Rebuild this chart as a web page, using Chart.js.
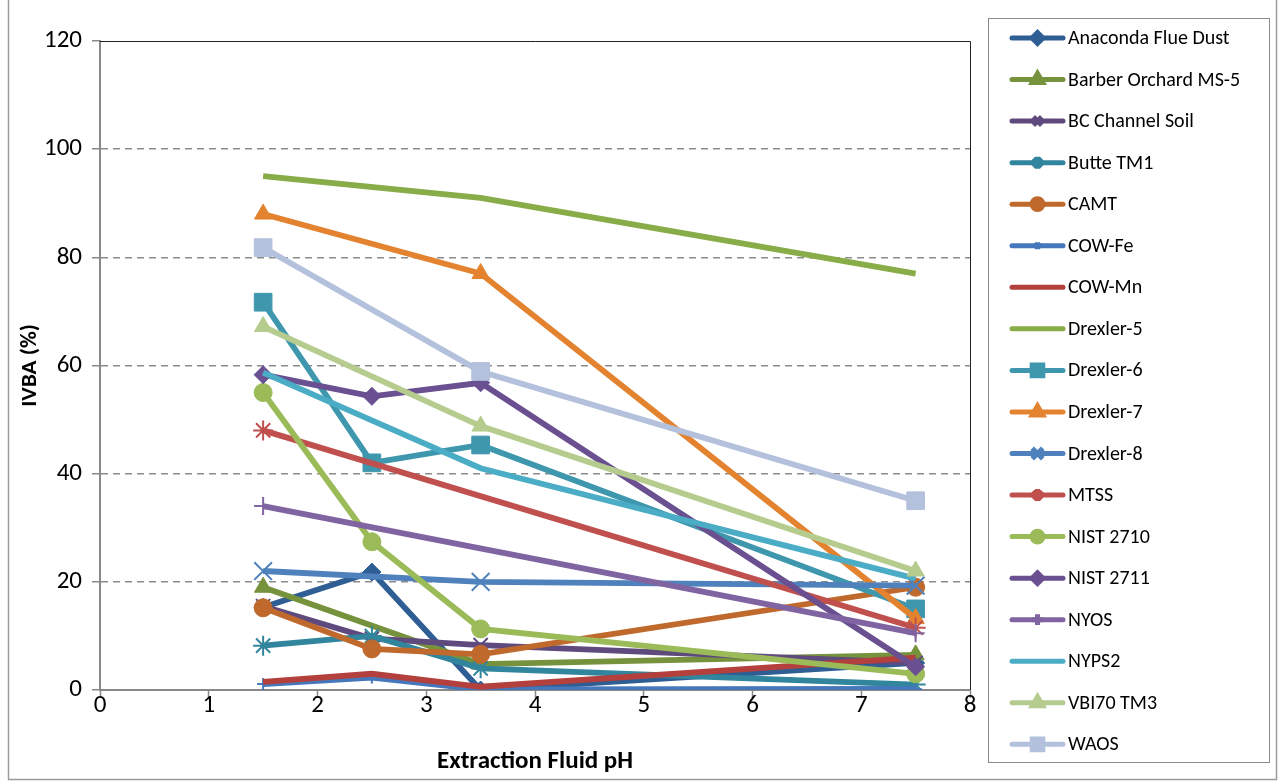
<!DOCTYPE html>
<html><head><meta charset="utf-8">
<script src="https://cdn.jsdelivr.net/npm/chart.js@4.4.1/dist/chart.umd.min.js"></script>
<style>html,body{margin:0;padding:0;background:#fff;}#wrap{width:1280px;height:782px;position:relative;}</style>
</head><body><div id="wrap"><canvas id="c" width="1280" height="782"></canvas></div>
<script>
// ---- data ----
const phLevels = [1.5, 2.5, 3.5, 7.5];
const seriesNames = ["Anaconda Flue Dust","Barber Orchard MS-5","BC Channel Soil","Butte TM1","CAMT","COW-Fe","COW-Mn","Drexler-5","Drexler-6","Drexler-7","Drexler-8","MTSS","NIST 2710","NIST 2711","NYOS","NYPS2","VBI70 TM3","WAOS"];
const anacondaFlueDust = [15.3, 21.8, 0, 5];
const barberOrchardMS5 = [19, null, 4.8, 6.5];
const bcChannelSoil   = [15.5, 9.5, 8.3, 5];
const butteTM1        = [8.2, 10, 4, 1];
const camt            = [15.2, 7.6, 6.6, 19];
const cowFe           = [1.1, 2.3, 0.1, 0.2];
const cowMn           = [1.5, 3, 0.6, 6];
const drexler5        = [95, null, 91, 77];
const drexler6        = [71.7, 42, 45.3, 15];
const drexler7        = [88, null, 77, 13.2];
const drexler8        = [22, null, 20, 19.3];
const mtss            = [48, null, null, 11.5];
const nist2710        = [55, 27.4, 11.3, 3];
const nist2711        = [58.3, 54.3, 56.8, 4.3];
const nyos            = [34, null, null, 10.5];
const nyps2           = [58.7, null, 41, 20.6];
const vbi70TM3        = [67.2, null, 48.8, 22];
const waos            = [81.8, null, 58.9, 35];
const seriesValues = [anacondaFlueDust, barberOrchardMS5, bcChannelSoil, butteTM1, camt, cowFe, cowMn, drexler5, drexler6, drexler7, drexler8, mtss, nist2710, nist2711, nyos, nyps2, vbi70TM3, waos];
const xTickValues = [0,1,2,3,4,5,6,7,8];
const yTickValues = [0,20,40,60,80,100,120];

// ---- styles ----
const seriesColors = ["#2E5E94","#76923C","#5F4A7E","#31859C","#C0692D","#4577BA","#B3403D","#88AC48","#3F97AE","#E3822F","#4F81BD","#C0504D","#9BBB59","#6A5090","#8064A2","#4BACC6","#B5CC8E","#B4C1DC"];
const seriesMarkers = ["rectRot","triangle","crossRot","star","circle","cross",false,false,"rect","triangle","crossRot","star","circle","rectRot","cross",false,"triangle","rect"];
const markerRadius = [9,10,10,10,9,6,0,0,12.5,10,12.5,10,9,9,9,0,10,12.5];

const FONT = "Carlito, Lato, 'Open Sans', sans-serif";

const datasets = seriesNames.map((name, i) => {
  const pts = phLevels.map((x, j) => ({x: x, y: seriesValues[i][j]}));
  const isStroke = ["crossRot","cross","star"].includes(seriesMarkers[i]);
  return {
    label: name,
    data: pts,
    borderColor: seriesColors[i],
    backgroundColor: seriesColors[i],
    borderWidth: 5.8,
    pointStyle: seriesMarkers[i] || false,
    pointRadius: markerRadius[i],
    pointHoverRadius: markerRadius[i],
    pointBackgroundColor: seriesColors[i],
    pointBorderColor: seriesColors[i],
    pointBorderWidth: isStroke ? 2 : 1,
    spanGaps: true,
    tension: 0,
    order: seriesNames.length - i
  };
});

const framePlugin = {
  id: 'frame',
  beforeDatasetsDraw(chart) {
    const {ctx, chartArea: a} = chart;
    ctx.save();
    ctx.strokeStyle = '#222';
    ctx.lineWidth = 1;
    ctx.beginPath();
    ctx.moveTo(a.left, a.top + 0.5); ctx.lineTo(a.right + 0.5, a.top + 0.5); ctx.lineTo(a.right + 0.5, a.bottom);
    ctx.stroke();
    ctx.restore();
  },
  afterDraw(chart) {
    const ctx = chart.ctx;
    ctx.save();
    ctx.strokeStyle = '#9a9a9a';
    ctx.lineWidth = 1.5;
    ctx.beginPath();
    ctx.moveTo(8.5, 0); ctx.lineTo(8.5, 779.5); ctx.lineTo(1276.5, 779.5); ctx.lineTo(1276.5, 0);
    ctx.stroke();
    ctx.strokeStyle = '#8a8a8a';
    ctx.lineWidth = 1;
    ctx.strokeRect(988.5, 18.5, 281, 744);
    const x0 = 1012, x1 = 1063, tx = 1068;
    ctx.font = "20px " + FONT;
    ctx.textBaseline = 'middle';
    ctx.textAlign = 'left';
    seriesNames.forEach((name, i) => {
      const y = 38 + i * 41.55;
      ctx.strokeStyle = seriesColors[i];
      ctx.lineWidth = 5;
      ctx.lineCap = 'round';
      ctx.beginPath(); ctx.moveTo(x0, y); ctx.lineTo(x1, y); ctx.stroke();
      ctx.lineCap = 'butt';
      if (seriesMarkers[i]) {
        const isStroke = ["crossRot","cross","star"].includes(seriesMarkers[i]);
        ctx.fillStyle = seriesColors[i];
        ctx.strokeStyle = seriesColors[i];
        Chart.helpers.drawPoint(ctx, {pointStyle: seriesMarkers[i], radius: markerRadius[i] * 0.6, rotation: 0, borderWidth: isStroke ? 1.5 : 1}, (x0 + x1) / 2, y);
      }
      ctx.fillStyle = '#000';
      ctx.fillText(name, tx, y + 1);
    });
    ctx.restore();
  }
};

new Chart(document.getElementById('c'), {
  type: 'line',
  data: {datasets},
  options: {
    responsive: false,
    animation: false,
    devicePixelRatio: 1,
    layout: {padding: {left: 0, top: 41, right: 310, bottom: 0}},
    plugins: {legend: {display: false}, tooltip: {enabled: false}},
    scales: {
      x: {
        type: 'linear', min: 0, max: 8,
        afterBuildTicks: s => { s.ticks = xTickValues.map(v => ({value: v})); },
        afterFit: s => { s.height = 92; },
        ticks: {font: {family: FONT, size: 25}, color: '#000', padding: -7},
        grid: {drawOnChartArea: false, tickLength: 8, tickColor: '#888', tickWidth: 1.5},
        border: {color: '#888', width: 2},
        title: {display: true, text: 'Extraction Fluid pH', font: {family: FONT, size: 25, weight: 'bold'}, color: '#000', padding: {top: 0, bottom: 5}}
      },
      y: {
        type: 'linear', min: 0, max: 120,
        afterBuildTicks: s => { s.ticks = yTickValues.map(v => ({value: v})); },
        afterFit: s => { s.width = 100; },
        ticks: {font: {family: FONT, size: 25}, color: '#000', padding: 10},
        grid: {
          color: c => (c.tick && (c.tick.value === 0 || c.tick.value === 120)) ? 'rgba(0,0,0,0)' : '#8c8c8c',
          lineWidth: 1.5, tickLength: 8, tickColor: '#888', tickWidth: 1.5
        },
        border: {color: '#888', width: 2, dash: [7, 5]},
        title: {display: true, text: 'IVBA (%)', font: {family: FONT, size: 23, weight: 'bold'}, color: '#000', padding: {top: 16, bottom: 0}}
      }
    }
  },
  plugins: [framePlugin]
});
</script>
</body></html>
